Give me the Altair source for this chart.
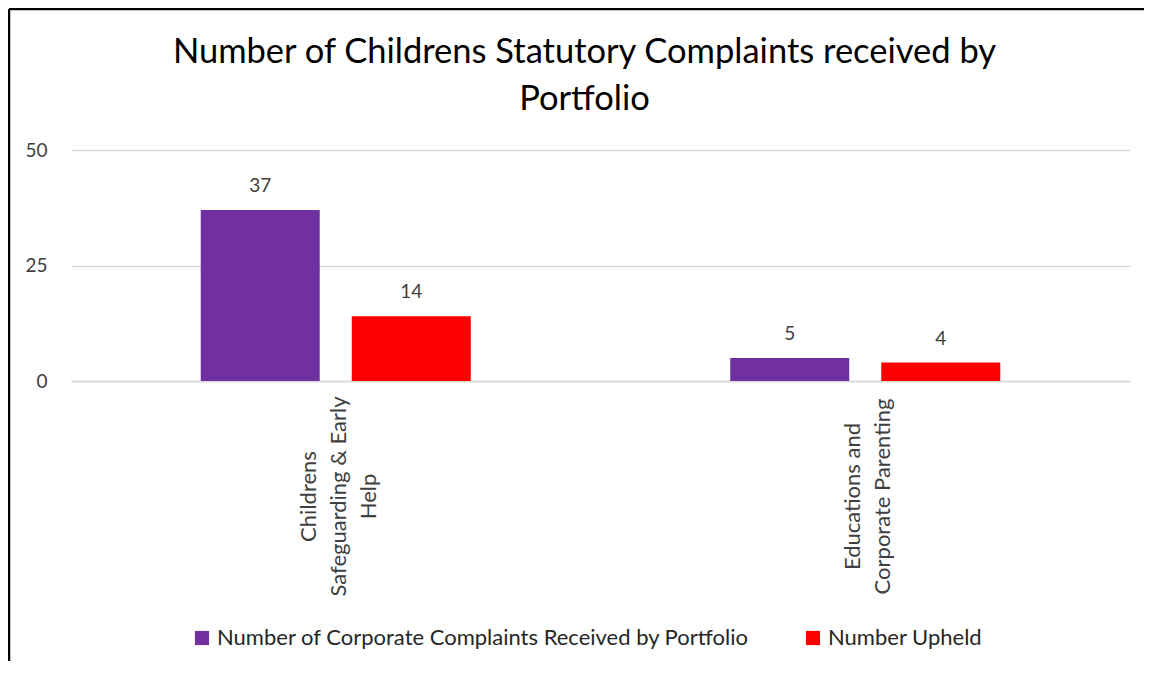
import altair as alt
import pandas as pd

portfolios = ["Childrens|Safeguarding & Early|Help", "Educations and|Corporate Parenting"]
series = ["Number of Corporate Complaints Received by Portfolio", "Number Upheld"]
received = [37, 5]
upheld = [14, 4]
colors = ["#7030A0", "#FF0000"]
y_ticks = [0, 25, 50]

rows = []
for p, r, u in zip(portfolios, received, upheld):
    rows.append({"portfolio": p, "series": series[0], "value": r})
    rows.append({"portfolio": p, "series": series[1], "value": u})
df = pd.DataFrame(rows)

FONT = "Lato"

x_enc = alt.X(
    "portfolio:N",
    sort=portfolios,
    scale=alt.Scale(paddingInner=0, paddingOuter=0),
    axis=alt.Axis(
        title=None,
        labelAngle=-90,
        labelAlign="center",
        labelBaseline="middle",
        labelPadding=115,
        labelExpr="split(datum.label, '|')",
        labelFontSize=22,
        labelFont=FONT,
        labelColor="#404040",
        labelLimit=0,
        labelLineHeight=30,
        labelOffset={"condition": {"test": "indexof(datum.value, 'Help') >= 0", "value": -27}, "value": -12},
        ticks=False,
        grid=False,
        domainColor="#d9d9d9",
        domainWidth=1.5,
    ),
)
xoff = alt.XOffset(
    "series:N", sort=series, scale=alt.Scale(paddingInner=0.212, paddingOuter=0.859)
)
y_enc = alt.Y(
    "value:Q",
    scale=alt.Scale(domain=[0, 50]),
    axis=alt.Axis(
        title=None,
        values=y_ticks,
        domain=False,
        ticks=False,
        labelFontSize=19,
        labelFont=FONT,
        labelColor="#404040",
        labelPadding=24,
        gridColor="#d9d9d9",
        gridWidth=1.5,
    ),
)
color_enc = alt.Color(
    "series:N",
    sort=series,
    scale=alt.Scale(domain=series, range=colors),
    legend=alt.Legend(
        title=None,
        orient="none",
        legendX=120,
        legendY=477,
        direction="horizontal",
        symbolType="square",
        symbolSize=200,
        symbolStrokeWidth=0,
        labelFontSize=22,
        labelFont=FONT,
        labelColor="#262626",
        labelLimit=0,
        columnPadding=52,
        symbolOffset=0,
        labelOffset=4,
    ),
)

base = alt.Chart(df)
bars = base.mark_bar(size=119).encode(x=x_enc, xOffset=xoff, y=y_enc, color=color_enc)
labels = base.mark_text(baseline="bottom", dy=-14, fontSize=19, font=FONT, color="#404040").encode(
    x=x_enc, xOffset=xoff, y=y_enc, text="value:Q"
)

border_df = pd.DataFrame({"k": ["top", "left"]})
top_border = alt.Chart(border_df).transform_filter("datum.k == 'top'").mark_rule(
    color="black", strokeWidth=2.5
).encode(x=alt.value(-62), x2=alt.value(1100), y=alt.value(-141))
left_border = alt.Chart(border_df).transform_filter("datum.k == 'left'").mark_rule(
    color="black", strokeWidth=2.5
).encode(x=alt.value(-62), y=alt.value(-141), y2=alt.value(560))

chart = (
    alt.layer(bars, labels, top_border, left_border)
    .properties(
        width=1059,
        height=231,
        background="white",
        autosize=alt.AutoSizeParams(type="none"),
        padding={"left": 63, "top": 142, "right": 14, "bottom": 280},
        title=alt.TitleParams(
            text=["Number of Childrens Statutory Complaints received by", "Portfolio"],
            fontSize=34.5,
            font=FONT,
            fontWeight="normal",
            color="#000000",
            anchor="middle",
            dx=-16,
            lineHeight=47,
            offset=-110,
        ),
    )
    .configure_view(stroke="transparent", strokeWidth=0)
)

chart.save("out.html", embed_options={"renderer": "svg", "actions": False})
